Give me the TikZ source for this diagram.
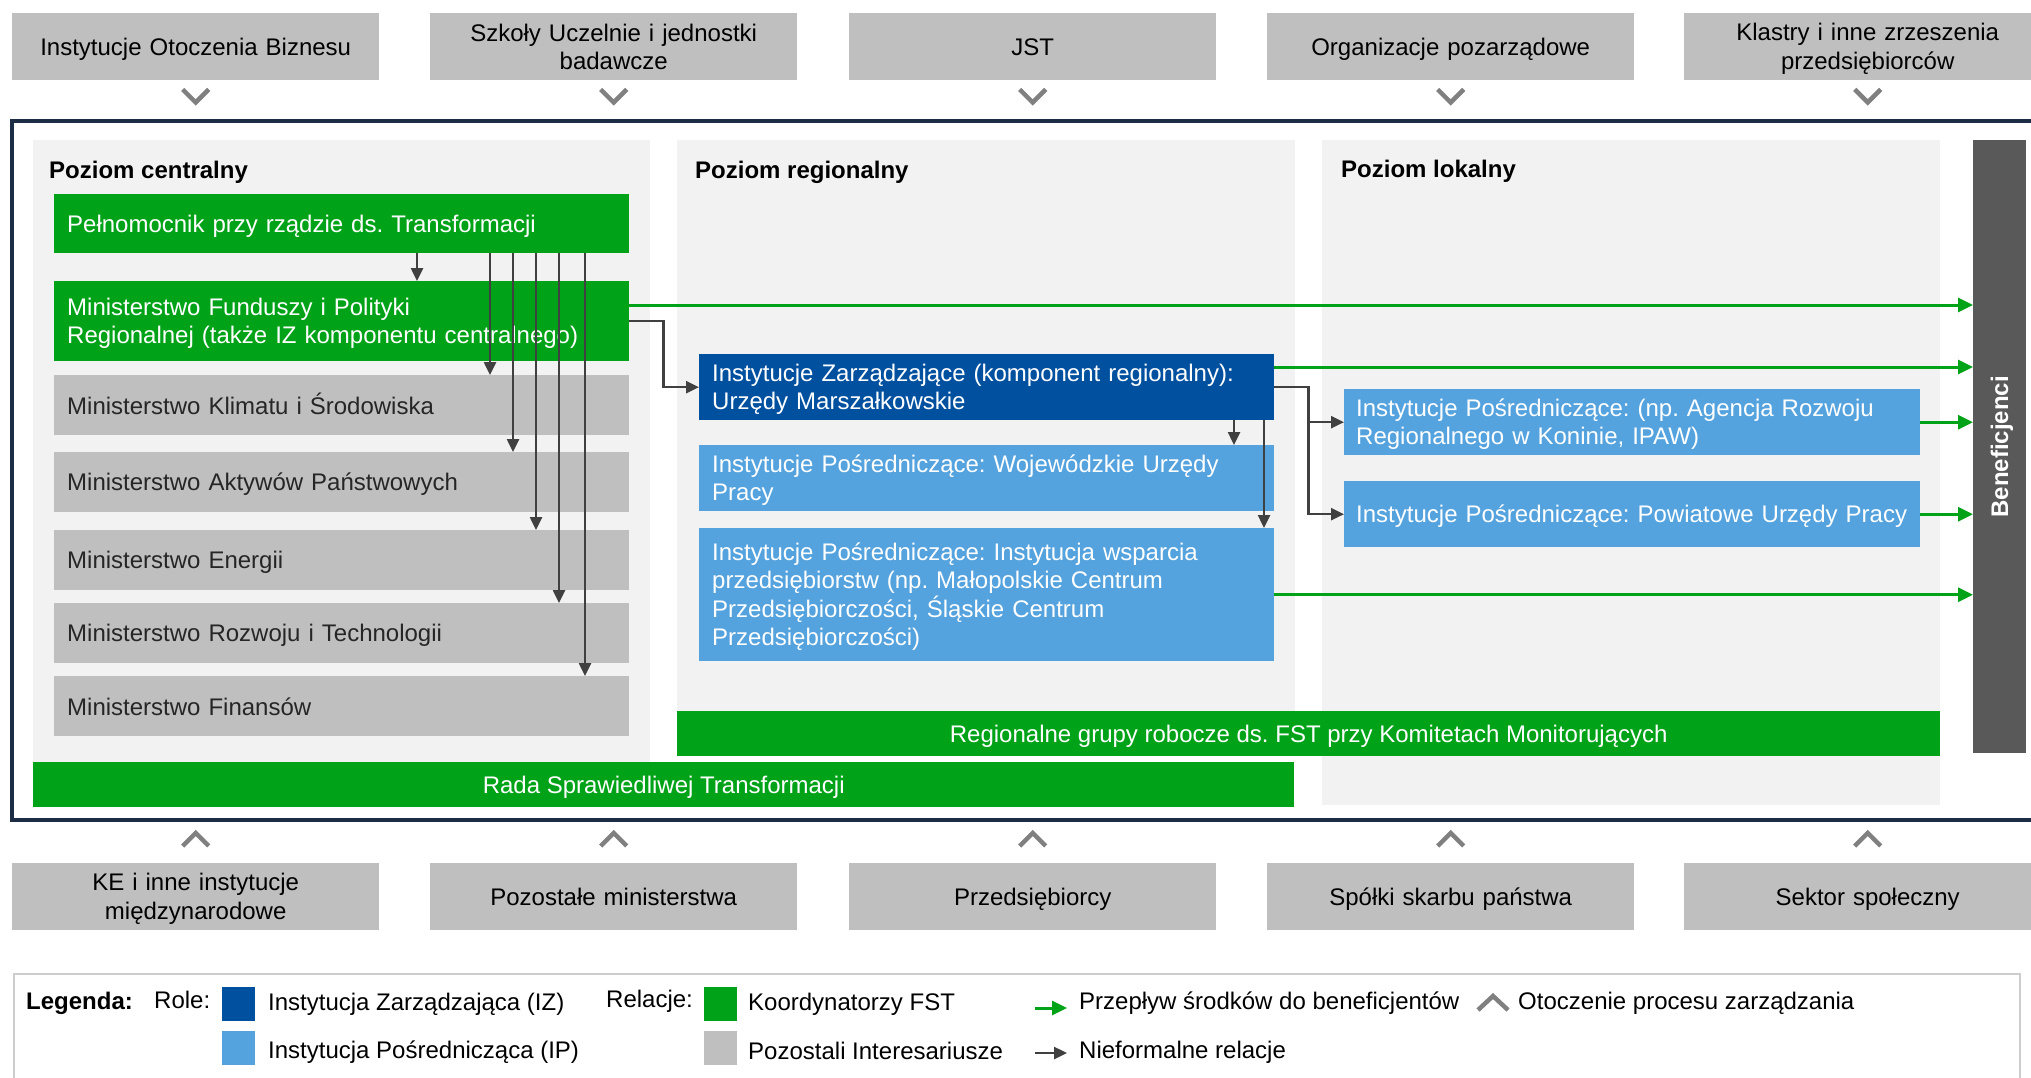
\documentclass[tikz,border=0pt]{standalone}
\usepackage{fontspec}
\setmainfont{Liberation Sans}
\usetikzlibrary{arrows.meta,calc}
\frenchspacing

\definecolor{fstgreen}{RGB}{0,163,24}
\definecolor{izblue}{RGB}{0,80,160}
\definecolor{ipblue}{RGB}{84,162,222}
\definecolor{boxgray}{RGB}{191,191,191}
\definecolor{panelgray}{RGB}{242,242,242}
\definecolor{framenavy}{RGB}{30,45,70}
\definecolor{benefgray}{RGB}{89,89,89}
\definecolor{chevgray}{RGB}{128,128,128}
\definecolor{arrgray}{RGB}{64,64,64}
\definecolor{leggray}{RGB}{205,205,205}

\newcommand\nodestrut{\rule[-4pt]{0pt}{26pt}}

\begin{document}
\begin{tikzpicture}[x=1pt, y=-1pt,
  >={Triangle[length=13pt,width=12pt]},
  every node/.style={font=\fontsize{24}{28.5}\selectfont, inner sep=0pt,
    execute at begin node=\nodestrut, execute at end node=\nodestrut},
  outer/.style={fill=boxgray, anchor=north west, text width=367, minimum height=67, align=center},
  lbox/.style={anchor=north west, align=left, inner xsep=13pt, text width=549},
  coord/.style={lbox, fill=fstgreen, text=white},
  other/.style={lbox, fill=boxgray, text=black!85},
  izbox/.style={lbox, fill=izblue, text=white},
  ipbox/.style={lbox, fill=ipblue, text=white},
  bar/.style={anchor=north west, fill=fstgreen, text=white, minimum height=45},
  title/.style={anchor=west, font=\fontsize{24}{28.5}\selectfont\bfseries},
  legtext/.style={anchor=west},
  swatch/.style={anchor=north west, minimum width=33, minimum height=34},
  flow/.style={->, fstgreen, line width=3pt, >={Triangle[length=15pt,width=14pt]}},
  inform/.style={->, arrgray, line width=2.5pt},
  chev/.style={chevgray, line width=4.5pt, line join=miter}
]

\useasboundingbox (0,0) rectangle (2031,1077);
\clip (0,0) rectangle (2031,1077);

%==== otoczenie (gora) ====
\node[outer] (t1) at (12,13)   {Instytucje Otoczenia Biznesu};
\node[outer] (t2) at (430,13)  {Szkoły Uczelnie i jednostki\\badawcze};
\node[outer] (t3) at (849,13)  {JST};
\node[outer] (t4) at (1267,13) {Organizacje pozarządowe};
\node[outer] (t5) at (1684,13) {Klastry i inne zrzeszenia\\przedsiębiorców};
\foreach \n in {t1,t2,t3,t4,t5}
  \draw[chev] ($(\n.south)+(-13,9)$) -- ++(13,13) -- ++(13,-13);

%==== ramka i poziomy ====
\draw[framenavy, line width=3.5pt] (12,121) rectangle (2045,820);
\fill[panelgray] (33,140) rectangle (650,762);
\fill[panelgray] (677,140) rectangle (1295,711);
\fill[panelgray] (1322,140) rectangle (1940,805);

\node[title] (pc) at (49,170)   {Poziom centralny};
\node[title] (pr) at (695,170)  {Poziom regionalny};
\node[title] (pl) at (1341,169) {Poziom lokalny};

%==== (1) poziom centralny ====
\node[coord, minimum height=59] (pel) at (54,194) {Pełnomocnik przy rządzie ds. Transformacji};
\node[coord, minimum height=80] (mf) at (54,281)
  {Ministerstwo Funduszy i Polityki\\Regionalnej (także IZ komponentu centralnego)};
\node[other, minimum height=60] (klim) at (54,375) {Ministerstwo Klimatu i Środowiska};
\node[other, minimum height=60] (akt)  at (54,452) {Ministerstwo Aktywów Państwowych};
\node[other, minimum height=60] (ene)  at (54,530) {Ministerstwo Energii};
\node[other, minimum height=60] (roz)  at (54,603) {Ministerstwo Rozwoju i Technologii};
\node[other, minimum height=60] (fin)  at (54,676) {Ministerstwo Finansów};

%==== (2) poziom regionalny ====
\node[izbox, minimum height=66] (iz) at (699,354)
  {Instytucje Zarządzające (komponent regionalny):\\Urzędy Marszałkowskie};
\node[ipbox, minimum height=66] (wup) at (699,445)
  {Instytucje Pośredniczące: Wojewódzkie Urzędy\\Pracy};
\node[ipbox, minimum height=133] (ip3) at (699,528)
  {Instytucje Pośredniczące: Instytucja wsparcia\\przedsiębiorstw (np. Małopolskie Centrum\\Przedsiębiorczości, Śląskie Centrum\\Przedsiębiorczości)};

%==== (3) poziom lokalny ====
\node[ipbox, inner xsep=12pt, text width=552, minimum height=66] (lok1) at (1344,389)
  {Instytucje Pośredniczące: (np. Agencja Rozwoju\\Regionalnego w Koninie, IPAW)};
\node[ipbox, inner xsep=12pt, text width=552, minimum height=66] (lok2) at (1344,481)
  {Instytucje Pośredniczące: Powiatowe Urzędy Pracy};

%==== paski ====
\node[bar, minimum width=1263] (rgr) at (677,711)
  {Regionalne grupy robocze ds. FST przy Komitetach Monitorujących};
\node[bar, minimum width=1261] (rada) at (33,762) {Rada Sprawiedliwej Transformacji};
\node[anchor=north west, fill=benefgray, minimum width=53, minimum height=613] (benef) at (1973,140) {};
\node[rotate=90, text=white, font=\fontsize{24}{28.5}\selectfont\bfseries] (beneftxt) at (benef.center) {Beneficjenci};

%==== nieformalne relacje ====
\draw[inform] ([xshift=363pt]pel.south west) -- ([xshift=363pt]mf.north west);
\draw[inform] ([xshift=436pt]pel.south west) -- ([xshift=436pt]klim.north west);
\draw[inform] ([xshift=459pt]pel.south west) -- ([xshift=459pt]akt.north west);
\draw[inform] ([xshift=482pt]pel.south west) -- ([xshift=482pt]ene.north west);
\draw[inform] ([xshift=505pt]pel.south west) -- ([xshift=505pt]roz.north west);
\draw[inform] ([xshift=531pt]pel.south west) -- ([xshift=531pt]fin.north west);
\draw[inform] (mf.east) -- ++(34,0) |- (iz.west);
\draw[inform] (iz.east) -- ++(34,0) |- (lok1.west);
\draw[inform] (iz.east) -- ++(34,0) |- (lok2.west);
\draw[inform] ([xshift=535pt]iz.south west) -- ([xshift=535pt]wup.north west);
\draw[inform] ([xshift=565pt]iz.south west) -- ([xshift=565pt]ip3.north west);

%==== przeplyw srodkow ====
\coordinate (mfo) at ([yshift=-24pt]mf.north east);
\coordinate (izo) at ([yshift=-13pt]iz.north east);
\draw[flow] (mfo) -- (mfo -| benef.west);
\draw[flow] (izo) -- (izo -| benef.west);
\draw[flow] (lok1.east) -- (lok1.east -| benef.west);
\draw[flow] (lok2.east) -- (lok2.east -| benef.west);
\draw[flow] (ip3.east) -- (ip3.east -| benef.west);

%==== otoczenie (dol) ====
\node[outer] (b1) at (12,863)   {KE i inne instytucje\\międzynarodowe};
\node[outer] (b2) at (430,863)  {Pozostałe ministerstwa};
\node[outer] (b3) at (849,863)  {Przedsiębiorcy};
\node[outer] (b4) at (1267,863) {Spółki skarbu państwa};
\node[outer] (b5) at (1684,863) {Sektor społeczny};
\foreach \n in {b1,b2,b3,b4,b5}
  \draw[chev] ($(\n.north)+(-13,-17)$) -- ++(13,-13) -- ++(13,13);

%==== legenda ====
\draw[leggray, line width=2pt] (14,974) rectangle (2020,1100);
\node[legtext, font=\fontsize{24}{28.5}\selectfont\bfseries] (lgtitle) at (26,1001) {Legenda:};
\node[legtext] (lgrole) at (154,999) {Role:};
\node[swatch, fill=izblue] (lgsw1) at (222,987) {};
\node[legtext] (lgiz) at (268,1002) {Instytucja Zarządzająca (IZ)};
\node[swatch, fill=ipblue] (lgsw2) at (222,1031) {};
\node[legtext] (lgip) at (268,1050) {Instytucja Pośrednicząca (IP)};
\node[legtext] (lgrel) at (606,999) {Relacje:};
\node[swatch, fill=fstgreen] (lgsw3) at (704,987) {};
\node[legtext] (lgkoo) at (748,1002) {Koordynatorzy FST};
\node[swatch, fill=boxgray] (lgsw4) at (704,1031) {};
\node[legtext] (lgpoz) at (748,1050) {Pozostali Interesariusze};
\node[legtext] (lgflow) at (1079,1001) {Przepływ środków do beneficjentów};
\draw[flow] ([xshift=-44pt,yshift=-7pt]lgflow.west) -- ([xshift=-12pt,yshift=-7pt]lgflow.west);
\node[legtext] (lgenv) at (1518,1001) {Otoczenie procesu zarządzania};
\draw[chev] ($(lgenv.west)+(-40,9)$) -- ++(15,-14) -- ++(15,14);
\node[legtext] (lginf) at (1079,1050) {Nieformalne relacje};
\draw[inform] ([xshift=-44pt,yshift=-3pt]lginf.west) -- ([xshift=-12pt,yshift=-3pt]lginf.west);

\end{tikzpicture}
\end{document}
